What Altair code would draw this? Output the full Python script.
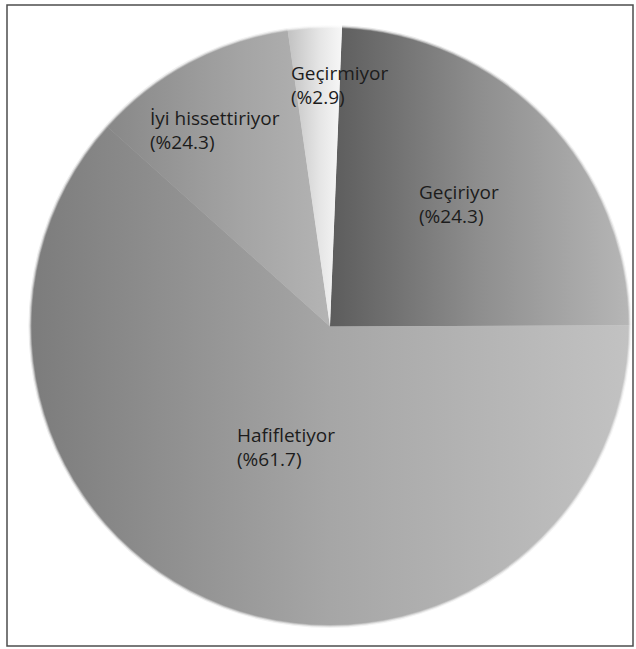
import math
import altair as alt
import pandas as pd

# ---- data ----
categories = ["Geçiriyor", "Hafifletiyor", "İyi hissettiriyor", "Geçirmiyor"]
shares = [24.3, 61.7, 11.1, 2.9]          # slice sizes (as drawn)
printed_pct = ["%24.3", "%61.7", "%24.3", "%2.9"]  # percentages printed in labels

df = pd.DataFrame({
    "cat": categories,
    "share": shares,
    "order": list(range(len(categories))),
})
labels = pd.DataFrame({
    "cat": categories,
    "label": [f"{c}\n({p})" for c, p in zip(categories, printed_pct)],
})

# ---- layout / style ----
PAD_L, PAD_T = 7, 5
CX, CY = 330 - PAD_L, 326.5 - PAD_T
R = 298.5
START = math.radians(2.3)
theta_scale = alt.Scale(domain=[0, 100], range=[START, START + 2 * math.pi])

def grad(stops):
    return alt.Gradient(
        gradient="linear", x1=0, x2=1, y1=0, y2=0,
        stops=[alt.GradientStop(offset=o, color=c) for o, c in stops],
    )

fills = {
    "Geçiriyor": grad([(0, "#5c5c5c"), (0.5, "#8e8e8e"), (1, "#b6b6b6")]),
    "Hafifletiyor": grad([(0, "#7c7c7c"), (0.5, "#a6a6a6"), (1, "#c2c2c2")]),
    "İyi hissettiriyor": grad([(0, "#888888"), (0.6, "#a4a4a4"), (1, "#b4b4b4")]),
    "Geçirmiyor": grad([(0, "#c2c2c2"), (0.6, "#e6e6e6"), (1, "#f7f7f7")]),
}

label_pos = {
    "Geçirmiyor": (291 - PAD_L, 80 - PAD_T),
    "İyi hissettiriyor": (150 - PAD_L, 125 - PAD_T),
    "Geçiriyor": (419 - PAD_L, 199 - PAD_T),
    "Hafifletiyor": (237 - PAD_L, 442 - PAD_T),
}

base = alt.Chart(df).transform_stack(
    stack="share", as_=["s0", "s1"], groupby=[],
    sort=[alt.SortField("order", order="ascending")],
)

layers = []
# soft outer edge
for rr, op in [(301.5, 0.15), (300.3, 0.35), (299.3, 0.6)]:
    for c in categories:
        layers.append(
            base.transform_filter(alt.datum.cat == c)
            .mark_arc(fill=fills[c], radius=rr, opacity=op)
            .encode(
                theta=alt.Theta("s0:Q", scale=theta_scale),
                theta2="s1:Q",
                x=alt.value(CX), y=alt.value(CY),
            )
        )
for c in categories:
    layers.append(
        base.transform_filter(alt.datum.cat == c)
        .mark_arc(fill=fills[c], radius=R)
        .encode(
            theta=alt.Theta("s0:Q", scale=theta_scale),
            theta2="s1:Q",
            x=alt.value(CX), y=alt.value(CY),
        )
    )

for c in categories:
    lx, ly = label_pos[c]
    layers.append(
        alt.Chart(labels).transform_filter(alt.datum.cat == c)
        .mark_text(
            align="left", baseline="alphabetic", font="Open Sans",
            fontSize=19, lineBreak="\n", lineHeight=24, color="#1c1c1c",
        )
        .encode(text="label:N", x=alt.value(lx), y=alt.value(ly))
    )

chart = alt.layer(*layers).properties(
    width=626, height=641,
    padding={"left": PAD_L, "top": PAD_T, "right": 3, "bottom": 3},
    autosize="none", background="white",
).configure_view(stroke="#4d4d4d", strokeWidth=1.5)

chart.save("out.html", embed_options={"renderer": "svg", "actions": False})
